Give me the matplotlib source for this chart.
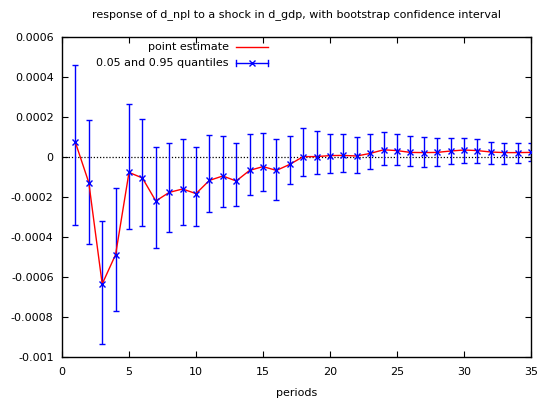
import matplotlib
matplotlib.use("Agg")
import matplotlib.pyplot as plt
from matplotlib.lines import Line2D
from matplotlib.ticker import FuncFormatter

plt.rcParams['font.family'] = ['DejaVu Sans']
plt.rcParams['font.size'] = 8

periods = list(range(1, 36))
point_estimate = [
    7.3e-5, -1.28e-4, -6.35e-4, -4.88e-4, -7.7e-5, -1.05e-4, -2.2e-4, -1.77e-4,
    -1.6e-4, -1.83e-4, -1.17e-4, -9.5e-5, -1.2e-4, -6.7e-5, -4.8e-5, -6.7e-5,
    -3.7e-5, 2e-6, 2e-6, 7e-6, 8e-6, 5e-6, 1.8e-5, 3.6e-5, 3.2e-5, 2.3e-5,
    2.2e-5, 2.3e-5, 3.0e-5, 3.5e-5, 3.2e-5, 2.5e-5, 2.2e-5, 2.2e-5, 2.3e-5,
]
q05 = [
    -3.4e-4, -4.37e-4, -9.35e-4, -7.72e-4, -3.6e-4, -3.45e-4, -4.55e-4, -3.75e-4,
    -3.42e-4, -3.47e-4, -2.77e-4, -2.52e-4, -2.47e-4, -1.92e-4, -1.68e-4, -2.17e-4,
    -1.37e-4, -9.7e-5, -8.3e-5, -8.0e-5, -7.7e-5, -8.2e-5, -5.8e-5, -4.0e-5,
    -4.0e-5, -4.7e-5, -5.2e-5, -4.3e-5, -3.5e-5, -2.8e-5, -3.0e-5, -3.5e-5,
    -3.5e-5, -3.2e-5, -2.2e-5,
]
q95 = [
    4.6e-4, 1.85e-4, -3.2e-4, -1.55e-4, 2.67e-4, 1.88e-4, 5.0e-5, 7.2e-5,
    8.8e-5, 4.8e-5, 1.08e-4, 1.05e-4, 7.2e-5, 1.15e-4, 1.2e-4, 9.2e-5,
    1.05e-4, 1.43e-4, 1.28e-4, 1.17e-4, 1.15e-4, 1.02e-4, 1.17e-4, 1.23e-4,
    1.13e-4, 1.05e-4, 1.0e-4, 9.3e-5, 9.5e-5, 9.7e-5, 9.2e-5, 7.7e-5,
    7.2e-5, 7.2e-5, 6.8e-5,
]
y_ticks = [0.0006, 0.0004, 0.0002, 0, -0.0002, -0.0004, -0.0006, -0.0008, -0.001]
x_ticks = [0, 5, 10, 15, 20, 25, 30, 35]

fig = plt.figure(figsize=(5.48, 4.03), dpi=100)
ax = fig.add_axes([62 / 548, 1 - 357 / 403, 469 / 548, 320 / 403])

ax.axhline(0, color='black', linestyle=(0, (1, 1.5)), linewidth=0.9, zorder=1)

lower_err = [p - lo for p, lo in zip(point_estimate, q05)]
upper_err = [hi - p for p, hi in zip(point_estimate, q95)]
ax.errorbar(periods, point_estimate, yerr=[lower_err, upper_err], fmt='none',
            ecolor='#0000ff', elinewidth=1.0, capsize=2.2, capthick=1.0, zorder=2)
ax.plot(periods, point_estimate, color='#ff0000', linewidth=1.0, zorder=3)
ax.plot(periods, point_estimate, linestyle='none', marker='x', color='#0000ff',
        markersize=4.5, markeredgewidth=1.0, zorder=4)

ax.set_xlim(0, 35)
ax.set_ylim(-0.001, 0.0006)
ax.set_xticks(x_ticks)
ax.set_yticks(y_ticks)
ax.yaxis.set_major_formatter(FuncFormatter(lambda v, _: '0' if abs(v) < 1e-12 else '%g' % v))
ax.tick_params(direction='in', length=4, width=0.8, top=True, right=True,
               labelsize=8)
ax.tick_params(axis='y', pad=6)
ax.tick_params(axis='x', pad=7.5)
for s in ax.spines.values():
    s.set_linewidth(1.0)

ax.set_xlabel('periods', fontsize=8, labelpad=7.5)
ax.set_title('response of d_npl to a shock in d_gdp, with bootstrap confidence interval',
             fontsize=8, pad=14)

# Key: text right-aligned, sample drawn to its right
tx, x0, x1 = 0.356, 0.371, 0.439
ax.text(tx, 0.969, 'point estimate', transform=ax.transAxes, ha='right', va='center')
ax.text(tx, 0.918, '0.05 and 0.95 quantiles', transform=ax.transAxes, ha='right', va='center')
ax.add_line(Line2D([x0, x1], [0.969, 0.969], transform=ax.transAxes,
                   color='#ff0000', linewidth=1.0))
ax.add_line(Line2D([x0, x1], [0.918, 0.918], transform=ax.transAxes,
                   color='#0000ff', linewidth=1.0))
for xc in (x0, x1):
    ax.add_line(Line2D([xc, xc], [0.909, 0.927], transform=ax.transAxes,
                       color='#0000ff', linewidth=1.0))
ax.add_line(Line2D([(x0 + x1) / 2], [0.918], transform=ax.transAxes, linestyle='none',
                   marker='x', color='#0000ff', markersize=4.5, markeredgewidth=1.0))

fig.savefig('out.png', dpi=100)
